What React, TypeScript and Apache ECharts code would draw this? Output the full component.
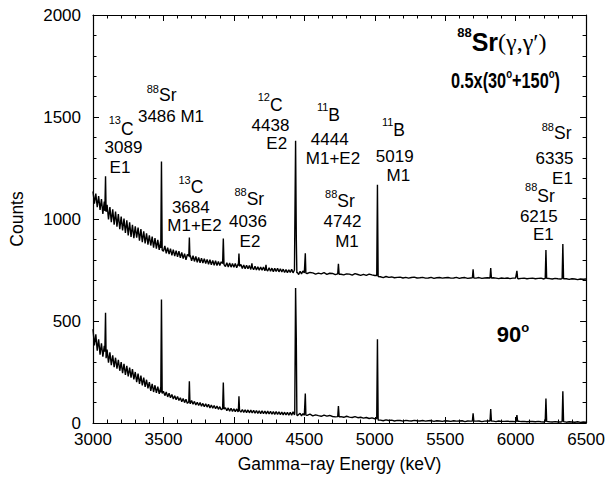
import React, { useEffect, useRef } from "react";
import * as echarts from "echarts";

// ---------------- data ----------------
// Energy grid: fine part 3000..4500 keV every 10 keV, coarse part 4520..6500 every 20 keV
const FINE_START = 3000;
const FINE_STEP = 10;
const COARSE_START = 4520;
const COARSE_STEP = 20;

// 0.5x(30°+150°) spectrum – continuum counts
const topFine = [
  1135, 1075, 1125, 1058, 1112, 1045, 1098, 1025, 1086, 1020,
  1070, 998, 1058, 985, 1048, 972, 1036, 962, 1024, 950,
  1012, 944, 1002, 932, 994, 920, 984, 912, 972, 906,
  964, 908, 958, 894, 950, 886, 940, 880, 930, 874,
  920, 870, 914, 860, 906, 855, 898, 848, 890, 845,
  842, 868, 832, 860, 828, 855, 822, 850, 818, 845,
  815, 842, 810, 836, 806, 830, 800, 826, 798, 822,
  795, 820, 792, 816, 788, 812, 785, 808, 784, 805,
  782, 802, 778, 800, 775, 797, 773, 795, 772, 792,
  772, 790, 770, 788, 767, 786, 765, 784, 764, 782,
  764, 782, 761, 779, 759, 777, 757, 775, 756, 773,
  756, 772, 753, 770, 751, 768, 750, 766, 749, 764,
  749, 765, 746, 763, 745, 761, 744, 759, 742, 758,
  743, 758, 741, 756, 740, 754, 738, 752, 737, 751,
  738, 753, 736, 750, 742, 738, 728, 744, 731, 745,
  736,
];
const topCoarse = [
  733, 738, 736, 730, 735, 731, 737, 729, 734, 733,
  727, 733, 729, 726, 731, 730, 725, 732, 728, 724,
  729, 724, 730, 726, 723, 720, 717, 713, 718, 714,
  716, 712, 714, 715, 711, 714, 710, 713, 715, 711,
  712, 714, 710, 711, 714, 709, 712, 713, 710, 712,
  713, 710, 711, 714, 709, 712, 713, 709, 711, 712,
  710, 713, 709, 711, 712, 708, 712, 710, 708, 711,
  709, 711, 708, 710, 711, 707, 709, 710, 707, 709,
  710, 707, 709, 710, 706, 709, 708, 706, 709, 707,
  706, 708, 707, 704, 707, 706, 703, 706, 705, 706,
];
// peaks: groups of [energy, counts] (flank, top, flank)
const topPeaks: [number, number][][] = [
  [[3084, 1040], [3089, 1209], [3093, 1035]],
  [[3481, 858], [3486, 1282], [3491, 848]],
  [[3680, 818], [3684, 909], [3688, 812]],
  [[3920, 782], [3925, 904], [3930, 776]],
  [[4032, 772], [4036, 831], [4040, 768]],
  [[4124, 765], [4128, 783], [4132, 762]],
  [[4224, 757], [4228, 775], [4232, 752]],
  [[4432, 748], [4438, 1383], [4443, 910], [4447, 735]],
  [[4503, 737], [4507, 832], [4511, 735]],
  [[4737, 731], [4742, 780], [4747, 729]],
  [[5014, 723], [5019, 1168], [5024, 718]],
  [[5693, 712], [5698, 754], [5703, 711]],
  [[5818, 711], [5823, 759], [5828, 710]],
  [[6004, 710], [6009, 746], [6014, 709]],
  [[6210, 709], [6215, 848], [6220, 709]],
  [[6330, 708], [6335, 877], [6340, 707]],
];

// 90° spectrum – continuum counts
const botFine = [
  460, 380, 435, 355, 410, 335, 390, 325, 378, 318,
  360, 296, 346, 284, 332, 274, 320, 266, 310, 256,
  298, 244, 290, 236, 280, 228, 272, 222, 264, 214,
  250, 200, 242, 192, 232, 184, 222, 177, 212, 170,
  200, 158, 192, 152, 185, 148, 178, 143, 172, 139,
  156, 134, 152, 128, 146, 124, 140, 118, 134, 114,
  130, 110, 124, 104, 120, 100, 116, 96, 112, 94,
  110, 92, 106, 88, 102, 86, 100, 82, 96, 80,
  94, 78, 92, 74, 88, 72, 86, 70, 83, 67,
  80, 65, 78, 62, 75, 60, 74, 58, 72, 57,
  70, 56, 69, 54, 67, 53, 66, 52, 65, 51,
  64, 50, 63, 49, 62, 48, 61, 47, 60, 46,
  60, 46, 59, 45, 58, 44, 57, 43, 56, 42,
  56, 42, 55, 41, 54, 40, 53, 39, 52, 38,
  52, 38, 55, 40, 50, 36, 42, 48, 35, 46,
  38,
];
const botCoarse = [
  37, 43, 35, 40, 36, 33, 39, 34, 37, 32,
  30, 35, 31, 28, 33, 29, 27, 31, 26, 28,
  24, 27, 22, 25, 21, 18, 14, 11, 15, 12,
  14, 10, 13, 12, 9, 13, 11, 10, 13, 11,
  10, 12, 9, 11, 12, 8, 11, 10, 8, 11,
  10, 8, 11, 9, 10, 11, 7, 10, 9, 8,
  9, 10, 7, 9, 10, 8, 9, 7, 10, 8,
  8, 9, 7, 8, 6, 9, 7, 8, 6, 7,
  7, 6, 8, 6, 5, 7, 6, 5, 7, 5,
  5, 6, 4, 6, 5, 4, 6, 3, 5, 4,
];
const botPeaks: [number, number][][] = [
  [[3084, 350], [3089, 540], [3093, 318]],
  [[3481, 150], [3486, 605], [3491, 145]],
  [[3680, 104], [3684, 205], [3688, 102]],
  [[3920, 70], [3925, 198], [3930, 68]],
  [[4032, 62], [4036, 131], [4040, 62]],
  [[4432, 48], [4438, 662], [4443, 410], [4447, 42]],
  [[4503, 40], [4507, 144], [4511, 39]],
  [[4737, 31], [4742, 83], [4747, 30]],
  [[5014, 22], [5019, 411], [5024, 15]],
  [[5693, 10], [5698, 47], [5703, 10]],
  [[5818, 10], [5823, 68], [5828, 9]],
  [[6004, 9], [6009, 39], [6014, 8]],
  [[6210, 8], [6215, 120], [6220, 8]],
  [[6330, 7], [6335, 155], [6340, 7]],
];

// axis ranges and texts
const X_MIN = 3000, X_MAX = 6500, X_STEP = 500;
const Y_MIN = 0, Y_MAX = 2000, Y_STEP = 500;
const X_TITLE = "Gamma\u2212ray Energy (keV)";
const Y_TITLE = "Counts";

// peak annotations: superscript mass number, element, further lines
const peakLabels: { sup: string; el: string; lines: string[] }[] = [
  { sup: "13", el: "C", lines: ["3089", "E1"] },
  { sup: "88", el: "Sr", lines: ["3486 M1"] },
  { sup: "13", el: "C", lines: ["3684", "M1+E2"] },
  { sup: "88", el: "Sr", lines: ["4036", "E2"] },
  { sup: "12", el: "C", lines: ["4438", "E2"] },
  { sup: "11", el: "B", lines: ["4444", "M1+E2"] },
  { sup: "11", el: "B", lines: ["5019", "M1"] },
  { sup: "88", el: "Sr", lines: ["4742", "M1"] },
  { sup: "88", el: "Sr", lines: ["6215", "E1"] },
  { sup: "88", el: "Sr", lines: ["6335", "E1"] },
];

// ---------------- helpers ----------------
function buildSpectrum(fine: number[], coarse: number[], peaks: [number, number][][]) {
  const pts: [number, number][] = [];
  fine.forEach((c, i) => pts.push([FINE_START + FINE_STEP * i, c]));
  coarse.forEach((c, i) => pts.push([COARSE_START + COARSE_STEP * i, c]));
  const kept = pts.filter(
    ([e]) => !peaks.some((g) => e >= g[0][0] && e <= g[g.length - 1][0])
  );
  peaks.forEach((g) => g.forEach((p) => kept.push([p[0], p[1]])));
  kept.sort((a, b) => a[0] - b[0]);
  return kept;
}

const SANS = "'Liberation Sans', Arial, Helvetica, sans-serif";
const SERIF = "'Liberation Serif', 'Times New Roman', serif";

function plain(text: string, x: number, y: number, size: number, align = "center") {
  return {
    type: "text",
    x,
    y,
    silent: true,
    style: {
      text,
      fill: "#000",
      fontSize: size,
      fontFamily: SANS,
      lineHeight: size * 0.9,
      align,
      verticalAlign: "middle",
      textAlign: align,
      textVerticalAlign: "middle",
    },
  };
}

// layout: [split x, sup cy, main cy, following lines [cx, cy]]
const annLayout: [number, number, number, [number, number][]][] = [
  [121, 120, 128.5, [[123.5, 147], [120, 167.5]]],
  [159, 88.5, 94.5, [[171, 116]]],
  [190.7, 180, 186.7, [[190.8, 207.5], [194.5, 225.5]]],
  [246.7, 191.5, 199, [[248, 221], [250, 241]]],
  [270, 97, 104.5, [[270.5, 125.5], [276.7, 143.5]]],
  [328.3, 107, 115, [[329.7, 139], [333, 158]]],
  [393.3, 121.5, 130, [[394.7, 156], [398.3, 175]]],
  [337.3, 193.5, 201, [[342.5, 221], [347, 241.7]]],
  [537.3, 186.5, 195.5, [[538.8, 216.5], [543.3, 234]]],
  [554, 127.3, 133.3, [[554.5, 158.8], [562.5, 178.8]]],
];

export default function App() {
  const ref = useRef<HTMLDivElement>(null);

  useEffect(() => {
    if (!ref.current) return;
    const chart = echarts.init(ref.current, undefined, { renderer: "svg" });

    const topData = buildSpectrum(topFine, topCoarse, topPeaks);
    const botData = buildSpectrum(botFine, botCoarse, botPeaks);

    const axisCommon = {
      axisLine: { show: true, onZero: false, lineStyle: { color: "#000", width: 1.2 } },
      axisTick: { show: true, inside: true, length: 6, lineStyle: { color: "#000", width: 1 } },
      minorTick: { show: true, splitNumber: 5, length: 3.5, lineStyle: { color: "#000", width: 1 } },
      splitLine: { show: false },
      minorSplitLine: { show: false },
    };

    const graphic: any[] = [];
    peakLabels.forEach((lab, i) => {
      const [sx, supY, mainY, rest] = annLayout[i];
      graphic.push(plain(lab.sup, sx, supY, 11, "right"));
      graphic.push(plain(lab.el, sx, mainY, 17.5, "left"));
      lab.lines.forEach((ln, j) => {
        const [lx, ly] = rest[j];
        graphic.push(plain(ln, lx, ly, 17, "center"));
      });
    });

    // reaction title: 88Sr(γ,γ′)
    graphic.push({
      type: "text",
      x: 471.7,
      y: 32,
      silent: true,
      style: {
        text: "88", fill: "#000", fontSize: 13, fontWeight: "bold", fontFamily: SANS,
        align: "right", verticalAlign: "middle", textAlign: "right", textVerticalAlign: "middle",
      },
    });
    graphic.push({
      type: "text",
      x: 471.7,
      y: 41.7,
      silent: true,
      style: {
        text: "{b|Sr}{g|(\u03b3,\u03b3\u2032)}",
        fill: "#000",
        align: "left",
        verticalAlign: "middle",
        textAlign: "left",
        textVerticalAlign: "middle",
        rich: {
          b: { fontSize: 25, fontWeight: "bold", fontFamily: SANS, color: "#000", lineHeight: 28 },
          g: { fontSize: 24, fontFamily: SERIF, color: "#000", lineHeight: 28 },
        },
      },
    });
    // angle labels
    graphic.push({
      type: "text",
      x: 560,
      y: 80,
      scaleX: 0.74,
      silent: true,
      style: {
        text: "{b|0.5x(30}{o|o}{b|+150}{o|o}{b|)}",
        fill: "#000",
        rich: {
          b: { fontSize: 22, fontWeight: "bold", fontFamily: SANS, color: "#000", lineHeight: 26 },
          o: { fontSize: 13, fontWeight: "bold", fontFamily: SANS, color: "#000", lineHeight: 13, verticalAlign: "top" },
        },
        align: "right",
        verticalAlign: "middle",
        textAlign: "right",
        textVerticalAlign: "middle",
      },
    });
    graphic.push({
      type: "text",
      x: 513,
      y: 334,
      silent: true,
      style: {
        text: "{b|90}{o|o}",
        fill: "#000",
        rich: {
          b: { fontSize: 22, fontWeight: "bold", fontFamily: SANS, color: "#000", lineHeight: 26 },
          o: { fontSize: 13, fontWeight: "bold", fontFamily: SANS, color: "#000", lineHeight: 13, verticalAlign: "top" },
        },
        align: "center",
        verticalAlign: "middle",
        textAlign: "center",
        textVerticalAlign: "middle",
      },
    });

    const fmt = (v: number) => String(v);

    chart.setOption({
      animation: false,
      grid: { left: 92, right: 20, top: 15, bottom: 50, containLabel: false },
      xAxis: [
        {
          type: "value",
          min: X_MIN,
          max: X_MAX,
          interval: X_STEP,
          position: "bottom",
          name: X_TITLE,
          nameLocation: "middle",
          nameGap: 32,
          nameTextStyle: { fontSize: 17.5, color: "#000", fontFamily: SANS },
          axisLabel: { color: "#000", fontSize: 17, lineHeight: 16, fontFamily: SANS, margin: 8, formatter: fmt },
          ...axisCommon,
        },
        {
          type: "value",
          min: X_MIN,
          max: X_MAX,
          interval: X_STEP,
          position: "top",
          axisLabel: { show: false },
          ...axisCommon,
        },
      ],
      yAxis: [
        {
          type: "value",
          min: Y_MIN,
          max: Y_MAX,
          interval: Y_STEP,
          position: "left",
          name: Y_TITLE,
          nameLocation: "middle",
          nameGap: 67,
          nameTextStyle: { fontSize: 17.5, color: "#000", fontFamily: SANS },
          axisLabel: { color: "#000", fontSize: 17, lineHeight: 16, fontFamily: SANS, margin: 12, formatter: fmt },
          ...axisCommon,
        },
        {
          type: "value",
          min: Y_MIN,
          max: Y_MAX,
          interval: Y_STEP,
          position: "right",
          axisLabel: { show: false },
          ...axisCommon,
        },
      ],
      series: [
        {
          name: "0.5x(30°+150°)",
          type: "line",
          xAxisIndex: 0,
          yAxisIndex: 0,
          data: topData,
          showSymbol: false,
          symbol: "none",
          lineStyle: { color: "#000", width: 1.4 },
          silent: true,
        },
        {
          name: "90°",
          type: "line",
          xAxisIndex: 0,
          yAxisIndex: 0,
          data: botData,
          showSymbol: false,
          symbol: "none",
          lineStyle: { color: "#000", width: 1.4 },
          silent: true,
        },
      ],
      graphic,
    });

    return () => chart.dispose();
  }, []);

  return (
    <div
      ref={ref}
      style={{ position: "absolute", left: 0, top: 0, width: 608, height: 478, background: "#fff" }}
    />
  );
}
